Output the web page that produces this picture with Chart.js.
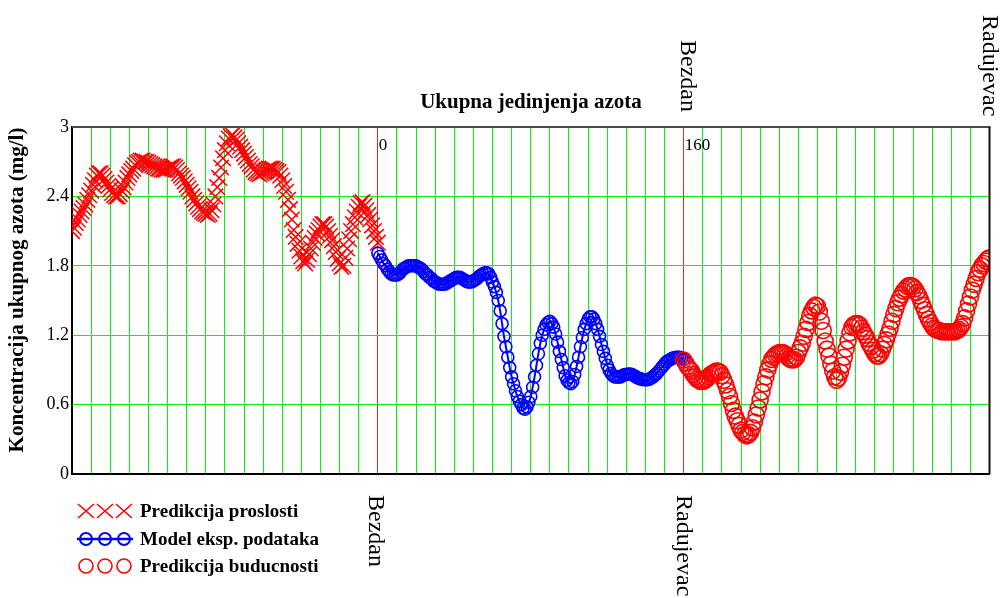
<!DOCTYPE html>
<html>
<head>
<meta charset="utf-8">
<title>Ukupna jedinjenja azota</title>
<script src="https://cdn.jsdelivr.net/npm/chart.js@4.4.0/dist/chart.umd.min.js"></script>
<style>
  html, body { margin: 0; padding: 0; background: #fff; }
  #wrap { width: 1002px; height: 598px; }
</style>
</head>
<body>
<div id="wrap"><canvas id="azotChart" width="1002" height="598"></canvas></div>
<script>
// sampling along the river (x) for the three pieces of the curve
const pastStart = -160;
const modelStart = 0;
const futureStart = 160;
const xStep = 1;

// past prediction, x = -160 .. 0
const pastValues = [
    2.10, 2.13, 2.17, 2.20, 2.24, 2.27, 2.30, 2.33, 2.37, 2.41,
    2.45, 2.50, 2.54, 2.58, 2.60, 2.60, 2.58, 2.55, 2.52, 2.49,
    2.46, 2.43, 2.41, 2.40, 2.40, 2.42, 2.45, 2.48, 2.52, 2.56,
    2.59, 2.62, 2.64, 2.67, 2.69, 2.70, 2.71, 2.71, 2.70, 2.70,
    2.69, 2.68, 2.67, 2.66, 2.65, 2.64, 2.64, 2.63, 2.63, 2.63,
    2.64, 2.65, 2.66, 2.66, 2.65, 2.63, 2.60, 2.58, 2.56, 2.53,
    2.50, 2.47, 2.44, 2.40, 2.37, 2.34, 2.31, 2.29, 2.27, 2.26,
    2.25, 2.24, 2.25, 2.28, 2.33, 2.40, 2.48, 2.56, 2.65, 2.73,
    2.80, 2.86, 2.90, 2.92, 2.93, 2.91, 2.89, 2.86, 2.83, 2.80,
    2.77, 2.74, 2.71, 2.68, 2.66, 2.63, 2.61, 2.60, 2.59, 2.60,
    2.61, 2.62, 2.63, 2.64, 2.64, 2.64, 2.63, 2.62, 2.61, 2.58,
    2.54, 2.49, 2.44, 2.37, 2.29, 2.20, 2.11, 2.05, 1.99, 1.93,
    1.88, 1.84, 1.82, 1.85, 1.90, 1.95, 2.00, 2.04, 2.08, 2.11,
    2.14, 2.16, 2.16, 2.14, 2.10, 2.06, 2.02, 1.97, 1.92, 1.86,
    1.82, 1.79, 1.80, 1.87, 1.95, 2.03, 2.10, 2.16, 2.22, 2.27,
    2.31, 2.34, 2.35, 2.32, 2.28, 2.24, 2.20, 2.15, 2.10, 2.05,
    2.00
];

// model of measured data, x = 0 .. 160
const modelValues = [
    1.91, 1.88, 1.85, 1.82, 1.80, 1.77, 1.75, 1.73, 1.72, 1.72,
    1.72, 1.73, 1.75, 1.77, 1.78, 1.79, 1.80, 1.80, 1.80, 1.80,
    1.80, 1.79, 1.78, 1.77, 1.75, 1.73, 1.72, 1.70, 1.69, 1.67,
    1.66, 1.65, 1.64, 1.64, 1.64, 1.64, 1.65, 1.66, 1.67, 1.68,
    1.69, 1.70, 1.70, 1.70, 1.69, 1.68, 1.67, 1.66, 1.66, 1.66,
    1.67, 1.68, 1.69, 1.71, 1.72, 1.73, 1.74, 1.74, 1.73, 1.70,
    1.66, 1.62, 1.57, 1.50, 1.41, 1.30, 1.19, 1.10, 1.01, 0.92,
    0.84, 0.78, 0.72, 0.67, 0.63, 0.60, 0.57, 0.56, 0.58, 0.62,
    0.67, 0.75, 0.84, 0.94, 1.04, 1.13, 1.20, 1.25, 1.29, 1.31,
    1.32, 1.30, 1.27, 1.21, 1.14, 1.06, 0.99, 0.92, 0.85, 0.81,
    0.79, 0.78, 0.80, 0.86, 0.93, 1.01, 1.10, 1.18, 1.25, 1.30,
    1.34, 1.36, 1.36, 1.34, 1.30, 1.25, 1.19, 1.12, 1.06, 1.00,
    0.94, 0.90, 0.87, 0.85, 0.84, 0.84, 0.84, 0.84, 0.85, 0.86,
    0.86, 0.865, 0.865, 0.86, 0.85, 0.84, 0.83, 0.825, 0.82, 0.815,
    0.815, 0.815, 0.82, 0.83, 0.84, 0.855, 0.87, 0.89, 0.91, 0.93,
    0.95, 0.97, 0.98, 0.99, 1.00, 1.005, 1.01, 1.01, 1.01, 1.00,
    0.99
];

// future prediction, x = 160 .. 320
const futureValues = [
    0.985, 0.96, 0.93, 0.91, 0.89, 0.86, 0.84, 0.82, 0.81, 0.80,
    0.80, 0.81, 0.82, 0.84, 0.86, 0.87, 0.88, 0.89, 0.89, 0.88,
    0.85, 0.81, 0.77, 0.72, 0.67, 0.61, 0.55, 0.50, 0.46, 0.42,
    0.38, 0.36, 0.34, 0.33, 0.34, 0.36, 0.40, 0.45, 0.51, 0.57,
    0.64, 0.71, 0.78, 0.84, 0.90, 0.95, 0.99, 1.01, 1.03, 1.04,
    1.05, 1.05, 1.05, 1.04, 1.02, 1.00, 0.99, 0.985, 0.99, 1.01,
    1.05, 1.09, 1.13, 1.19, 1.25, 1.31, 1.37, 1.41, 1.44, 1.46,
    1.45, 1.40, 1.32, 1.24, 1.15, 1.08, 1.02, 0.95, 0.89, 0.84,
    0.81, 0.83, 0.88, 0.94, 1.01, 1.08, 1.15, 1.22, 1.27, 1.29,
    1.30, 1.30, 1.29, 1.26, 1.23, 1.20, 1.17, 1.13, 1.10, 1.07,
    1.04, 1.02, 1.02, 1.04, 1.08, 1.12, 1.16, 1.21, 1.26, 1.32,
    1.38, 1.43, 1.48, 1.52, 1.55, 1.58, 1.60, 1.62, 1.63, 1.63,
    1.62, 1.60, 1.57, 1.54, 1.50, 1.46, 1.42, 1.38, 1.34, 1.31,
    1.28, 1.26, 1.25, 1.24, 1.24, 1.23, 1.23, 1.23, 1.23, 1.23,
    1.23, 1.23, 1.23, 1.24, 1.25, 1.27, 1.30, 1.35, 1.41, 1.47,
    1.53, 1.59, 1.64, 1.69, 1.74, 1.77, 1.80, 1.82, 1.84, 1.86,
    1.87
];

const yTicks = [0, 0.6, 1.2, 1.8, 2.4, 3];
const markerX = [0, 160];                       // red lines, value printed inside plot
const topStations = ['Bezdan', 'Radujevac'];    // at x = 160 and 320
const bottomStations = ['Bezdan', 'Radujevac']; // at x = 0 and 160
const legendLabels = ['Predikcija proslosti', 'Model eksp. podataka', 'Predikcija buducnosti'];
const chartTitle = 'Ukupna jedinjenja azota';
const yTitle = 'Koncentracija ukupnog azota (mg/l)';

const serif = '"Liberation Serif", "Times New Roman", serif';
const RED = '#ff0000';
const BLUE = '#0000ff';

function toPoints(values, start) {
    return values.map((v, i) => ({ x: start + i * xStep, y: v }));
}

/**
 * Texts, frame and the hand drawn legend that chart.js does not do for us.
 */
const decorPlugin = {
    id: 'decor',
    afterDraw(chart) {
        const { ctx, chartArea: a } = chart;
        ctx.save();

        // top and right frame
        ctx.lineWidth = 2;
        ctx.strokeStyle = '#4a4a4a';
        ctx.beginPath(); ctx.moveTo(a.left, a.top); ctx.lineTo(a.right + 1, a.top); ctx.stroke();
        ctx.strokeStyle = '#111';
        ctx.beginPath(); ctx.moveTo(a.right, a.top); ctx.lineTo(a.right, a.bottom); ctx.stroke();

        ctx.fillStyle = '#000';

        // values of the red marker lines
        ctx.font = '17px ' + serif;
        ctx.textAlign = 'left';
        ctx.textBaseline = 'alphabetic';
        markerX.forEach(v => {
            ctx.fillText(String(v), chart.scales.x.getPixelForValue(v) + 1, a.top + 23);
        });

        // title
        ctx.font = 'bold 21px ' + serif;
        ctx.textAlign = 'center';
        ctx.fillText(chartTitle, 531, 108);

        // y axis title
        ctx.save();
        ctx.translate(18, 290);
        ctx.rotate(-Math.PI / 2);
        ctx.textBaseline = 'middle';
        ctx.fillText(yTitle, 0, 0);
        ctx.restore();

        // station names, written top to bottom
        ctx.font = '24px ' + serif;
        const vtext = (str, px, py) => {
            ctx.save();
            ctx.translate(px, py);
            ctx.rotate(Math.PI / 2);
            ctx.textAlign = 'left';
            ctx.textBaseline = 'alphabetic';
            ctx.fillText(str, 0, 0);
            ctx.restore();
        };
        vtext(topStations[0], 681, 40);
        vtext(topStations[1], 983, 15);
        vtext(bottomStations[0], 369, 495);
        vtext(bottomStations[1], 677, 495);

        // legend
        const rows = [511, 539, 566];
        const xs = [86, 105, 124];

        ctx.strokeStyle = RED;
        ctx.lineWidth = 1.6;
        xs.forEach(cx => {
            ctx.beginPath();
            ctx.moveTo(cx - 8, rows[0] - 7); ctx.lineTo(cx + 8, rows[0] + 7);
            ctx.moveTo(cx + 8, rows[0] - 7); ctx.lineTo(cx - 8, rows[0] + 7);
            ctx.stroke();
        });

        ctx.strokeStyle = BLUE;
        ctx.lineWidth = 2.5;
        ctx.beginPath(); ctx.moveTo(77, rows[1]); ctx.lineTo(133, rows[1]); ctx.stroke();
        ctx.lineWidth = 2;
        xs.forEach(cx => {
            ctx.beginPath(); ctx.arc(cx, rows[1], 6, 0, Math.PI * 2); ctx.stroke();
        });

        ctx.strokeStyle = RED;
        ctx.lineWidth = 1.6;
        xs.forEach(cx => {
            ctx.beginPath(); ctx.arc(cx, rows[2], 7, 0, Math.PI * 2); ctx.stroke();
        });

        ctx.font = 'bold 19px ' + serif;
        ctx.textAlign = 'left';
        ctx.textBaseline = 'middle';
        legendLabels.forEach((t, i) => ctx.fillText(t, 140, rows[i] + 1));

        ctx.restore();
    }
};

const ctx = document.getElementById('azotChart').getContext('2d');
new Chart(ctx, {
    type: 'scatter',
    data: {
        datasets: [
            {
                label: legendLabels[0],
                data: toPoints(pastValues, pastStart),
                showLine: false,
                pointStyle: 'crossRot',
                pointRadius: 11,
                pointBorderWidth: 1.5,
                pointBorderColor: RED,
                pointBackgroundColor: RED,
                clip: 0,
                order: 1
            },
            {
                label: legendLabels[1],
                data: toPoints(modelValues, modelStart),
                showLine: true,
                borderColor: BLUE,
                borderWidth: 2,
                tension: 0,
                pointStyle: 'circle',
                pointRadius: 6,
                pointBorderWidth: 1.6,
                pointBorderColor: BLUE,
                pointBackgroundColor: 'rgba(0,0,0,0)',
                clip: 0,
                order: 2
            },
            {
                label: legendLabels[2],
                data: toPoints(futureValues, futureStart),
                showLine: false,
                pointStyle: 'circle',
                pointRadius: 8,
                pointBorderWidth: 1.6,
                pointBorderColor: RED,
                pointBackgroundColor: 'rgba(0,0,0,0)',
                clip: 0,
                order: 1
            }
        ]
    },
    options: {
        responsive: false,
        animation: false,
        layout: {
            padding: { top: 127, right: 9, bottom: 124, left: 0 }
        },
        plugins: {
            legend: { display: false },
            title: { display: false },
            tooltip: { enabled: false }
        },
        scales: {
            x: {
                type: 'linear',
                min: -160,
                max: 320,
                ticks: { stepSize: 10, display: false },
                grid: {
                    drawTicks: false,
                    lineWidth: 1,
                    color: c => markerX.includes(c.tick.value) ? '#e8300c' : '#12ee12'
                },
                border: { color: '#000', width: 2 },
                afterFit: s => { s.height = 0; }
            },
            y: {
                min: 0,
                max: 3,
                afterBuildTicks: s => { s.ticks = yTicks.map(v => ({ value: v })); },
                ticks: {
                    color: '#000',
                    padding: 3,
                    font: { family: serif, size: 18 },
                    callback: v => String(v)
                },
                grid: { drawTicks: false, lineWidth: 1, color: '#12ee12' },
                border: { color: '#000', width: 2 },
                afterFit: s => { s.width = 72; }
            }
        }
    },
    plugins: [decorPlugin]
});
</script>
</body>
</html>
